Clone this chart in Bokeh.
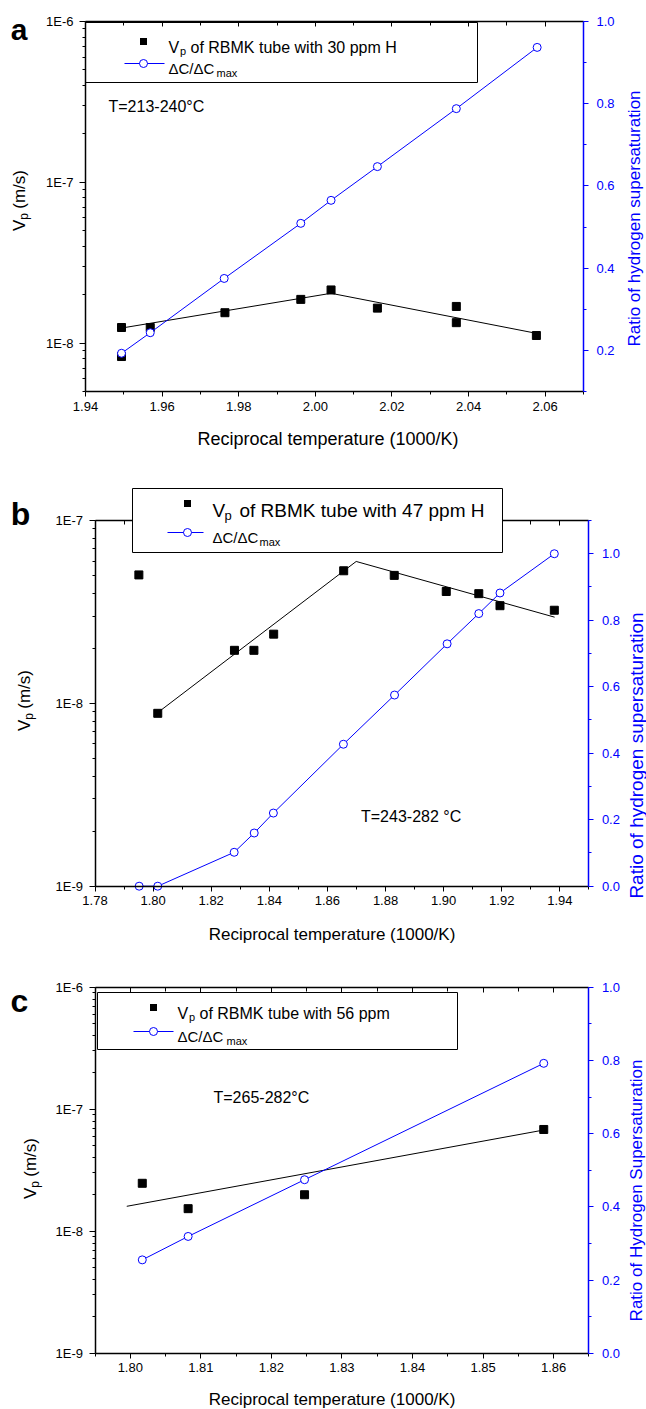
import math
from bokeh.plotting import figure
from bokeh.models import (Range1d, LinearAxis, LinearScale, FixedTicker, CustomJSTickFormatter,
                          NumeralTickFormatter, Label, BoxAnnotation, CustomLabelingPolicy)
from bokeh.layouts import column
from bokeh.embed import file_html
from bokeh.resources import INLINE

FONT = "Liberation Sans"
BLUE = "#0000FF"
W = 646

# ---------------- data ----------------
# Panel a : RBMK tube with 30 ppm H, T=213-240 C
a_vp_x = [1.9494, 1.9494, 1.9569, 1.9764, 1.9962, 2.0041, 2.0162, 2.0368, 2.0368, 2.0577]
a_vp_y = [1.25e-8, 8.25e-9, 1.25e-8, 1.545e-8, 1.87e-8, 2.14e-8, 1.65e-8, 1.69e-8, 1.34e-8, 1.115e-8]
a_fit_x = [1.9494, 2.0041, 2.0577]
a_fit_y = [1.24e-8, 2.04e-8, 1.15e-8]
a_ratio_x = [1.9494, 1.9569, 1.9762, 1.9962, 2.0041, 2.0162, 2.0368, 2.0579]
a_ratio_y = [0.193, 0.243, 0.375, 0.509, 0.565, 0.647, 0.788, 0.937]

# Panel b : RBMK tube with 47 ppm H, T=243-282 C
b_vp_x = [1.7951, 1.8016, 1.8280, 1.8347, 1.8415, 1.8656, 1.8830, 1.9009, 1.9121, 1.9194, 1.9381]
b_vp_y = [5.04e-8, 8.82e-9, 1.95e-8, 1.95e-8, 2.39e-8, 5.31e-8, 5.01e-8, 4.09e-8, 3.98e-8, 3.42e-8, 3.23e-8]
b_fit_x = [1.8016, 1.8699, 1.9382]
b_fit_y = [8.9e-9, 5.97e-8, 2.96e-8]
b_ratio_x = [1.7952, 1.8016, 1.8279, 1.8348, 1.8414, 1.8655, 1.8831, 1.9012, 1.9121, 1.9194, 1.9381]
b_ratio_y = [0.0, 0.0, 0.102, 0.160, 0.220, 0.427, 0.575, 0.729, 0.820, 0.882, 1.0]

# Panel c : RBMK tube with 56 ppm, T=265-282 C
c_vp_x = [1.8017, 1.8082, 1.8247, 1.8586]
c_vp_y = [2.47e-8, 1.53e-8, 1.99e-8, 6.82e-8]
c_fit_x = [1.7995, 1.8586]
c_fit_y = [1.60e-8, 6.75e-8]
c_ratio_x = [1.8017, 1.8082, 1.8247, 1.8586]
c_ratio_y = [0.255, 0.319, 0.474, 0.792]

# axis ranges and ticks
a_xrange, a_yrange, a_rrange = (1.94, 2.07), (5e-9, 1e-6), (0.1, 1.0)
b_xrange, b_yrange, b_rrange = (1.78, 1.95), (1e-9, 1e-7), (0.0, 1.1)
c_xrange, c_yrange, c_rrange = (1.795, 1.865), (1e-9, 1e-6), (0.0, 1.0)

a_xticks = [1.94, 1.96, 1.98, 2.00, 2.02, 2.04, 2.06]
a_xminor = [1.95, 1.97, 1.99, 2.01, 2.03, 2.05, 2.07]
b_xticks = [1.78, 1.80, 1.82, 1.84, 1.86, 1.88, 1.90, 1.92, 1.94]
b_xminor = [1.79, 1.81, 1.83, 1.85, 1.87, 1.89, 1.91, 1.93, 1.95]
c_xticks = [1.80, 1.81, 1.82, 1.83, 1.84, 1.85, 1.86]
c_xminor = [1.795, 1.805, 1.815, 1.825, 1.835, 1.845, 1.855, 1.865]

a_rticks = [0.2, 0.4, 0.6, 0.8, 1.0]
a_rminor = [0.1, 0.3, 0.5, 0.7, 0.9]
b_rticks = [0.0, 0.2, 0.4, 0.6, 0.8, 1.0]
b_rminor = [0.1, 0.3, 0.5, 0.7, 0.9, 1.1]
c_rticks = [0.0, 0.2, 0.4, 0.6, 0.8, 1.0]
c_rminor = [0.1, 0.3, 0.5, 0.7, 0.9]

a_yexp = (-8, -6)
b_yexp = (-9, -7)
c_yexp = (-9, -6)

x_title = "Reciprocal temperature (1000/K)"
a_legend = "of RBMK tube with 30 ppm H"
b_legend = "of RBMK tube with 47 ppm H"
c_legend = "of RBMK tube with 56 ppm"
a_temp = "T=213-240°C"
b_temp = "T=243-282 °C"
c_temp = "T=265-282°C"
a_rlabel = "Ratio of hydrogen supersaturation"
b_rlabel = "Ratio of hydrogen supersaturation"
c_rlabel = "Ratio of Hydrogen Supersaturation"

# ---------------- geometry (page pixels): canvas and plot rectangle ----------------
GA = dict(Y0=0, H=455, L=85, R=583, T=21, B=391)
GB = dict(Y0=455, H=490, L=94.5, R=588.4, T=520, B=885.7)
GC = dict(Y0=945, H=464, L=94.5, R=588.4, T=986.7, B=1352.7)


def sx(G, X):
    return X


def sy(G, Y):
    return G["Y0"] + G["H"] - Y


def put(p, G, X, Y, text, size, color="black", align="left", baseline="middle", angle=0.0, bold=False):
    p.add_layout(Label(x=sx(G, X), y=sy(G, Y), x_units="screen", y_units="screen", text=text,
                       text_font=FONT, text_font_size=f"{size}px", text_color=color,
                       text_align=align, text_baseline=baseline, angle=angle,
                       text_font_style="bold" if bold else "normal"))


def box(p, G, X0, Y0, X1, Y1, fill=None, line="black", lw=1.0, radius=0):
    p.add_layout(BoxAnnotation(left=sx(G, X0), right=sx(G, X1), top=sy(G, Y0), bottom=sy(G, Y1),
                               left_units="screen", right_units="screen",
                               top_units="screen", bottom_units="screen",
                               fill_color=fill if fill else "white", fill_alpha=1.0 if fill else 0.0,
                               line_color=line if line else "white", line_alpha=1.0 if line else 0.0,
                               line_width=lw, border_radius=radius))


def decade_ticks(lo, hi, vmin, vmax):
    majors = [10.0 ** e for e in range(lo, hi + 1)]
    minors = [m * 10.0 ** e for e in range(lo - 1, hi + 1) for m in range(2, 10)]
    minors = [v for v in minors if vmin * 0.999 <= v <= vmax * 1.001]
    return majors, minors


def style(ax, color, size="13px"):
    ax.axis_line_color = color
    ax.axis_line_width = 1.5
    ax.major_tick_line_color = color
    ax.minor_tick_line_color = color
    ax.major_tick_line_width = 1
    ax.minor_tick_line_width = 1
    ax.major_label_text_color = color
    ax.major_label_text_font = FONT
    ax.major_label_text_font_size = size
    ax.major_label_text_font_style = "normal"
    ax.axis_label = None


def make_panel(G, xr, yr, rr, xt, xm, yexp, rt, rm):
    # extend the ranges so that the whole canvas is the frame, and the plot
    # rectangle [xr] x [yr] lands on the measured pixel box
    L, R, T, B, Y0, H = G["L"], G["R"], G["T"], G["B"], G["Y0"], G["H"]
    kx = (R - L) / (xr[1] - xr[0])
    xs = (xr[0] - L / kx, xr[1] + (W - R) / kx)
    ly0, ly1 = math.log10(yr[0]), math.log10(yr[1])
    ky = (B - T) / (ly1 - ly0)
    ys = (10 ** (ly0 - (Y0 + H - B) / ky), 10 ** (ly1 + (T - Y0) / ky))
    kr = (B - T) / (rr[1] - rr[0])
    rs = (rr[0] - (Y0 + H - B) / kr, rr[1] + (T - Y0) / kr)

    p = figure(width=W, height=H, x_range=Range1d(*xs), y_range=Range1d(*ys),
               y_axis_type="log", output_backend="svg", toolbar_location=None, title=None,
               min_border_left=0, min_border_right=0, min_border_top=0, min_border_bottom=0)
    p.extra_y_ranges = {"r": Range1d(*rs)}
    p.extra_y_scales = {"r": LinearScale()}
    p.outline_line_color = None
    p.xgrid.visible = False
    p.ygrid.visible = False
    p.background_fill_color = "white"
    p.border_fill_color = "white"

    bx = p.xaxis[0]
    style(bx, "black")
    bx.fixed_location = yr[0]
    bx.bounds = xr
    bx.ticker = FixedTicker(ticks=xt, minor_ticks=xm)
    bx.formatter = NumeralTickFormatter(format="0.00")
    bx.major_tick_in, bx.major_tick_out = 0, 5
    bx.minor_tick_in, bx.minor_tick_out = 0, 3
    bx.major_label_standoff = 5

    ly = p.yaxis[0]
    style(ly, "black")
    ly.fixed_location = xr[0]
    ly.bounds = yr
    ymaj, ymin = decade_ticks(yexp[0], yexp[1], yr[0], yr[1])
    ly.ticker = FixedTicker(ticks=ymaj, minor_ticks=ymin)
    ly.formatter = CustomJSTickFormatter(code="return '1E' + Math.round(Math.log10(tick)).toString();")
    ly.major_tick_in, ly.major_tick_out = 0, 6
    ly.minor_tick_in, ly.minor_tick_out = 0, 3
    ly.major_label_standoff = 6

    top = LinearAxis(ticker=FixedTicker(ticks=xt, minor_ticks=xm), fixed_location=yr[1], bounds=xr,
                     major_label_policy=CustomLabelingPolicy(code="for (const i of indices) indices.unset(i)"))
    style(top, "black")
    top.major_tick_in, top.major_tick_out = 5, 0
    top.minor_tick_in, top.minor_tick_out = 4, 0
    p.add_layout(top, "above")

    ry = LinearAxis(y_range_name="r", ticker=FixedTicker(ticks=rt, minor_ticks=rm),
                    formatter=NumeralTickFormatter(format="0.0"), fixed_location=xr[1], bounds=rr)
    style(ry, BLUE)
    ry.major_tick_in, ry.major_tick_out = 0, 5
    ry.minor_tick_in, ry.minor_tick_out = 0, 3
    ry.major_label_standoff = 8
    p.add_layout(ry, "right")
    return p


def data(p, vx, vy, fx, fy, rx, ry_):
    p.line(fx, fy, line_color="black", line_width=1)
    p.scatter(vx, vy, marker="square", size=8, fill_color="black", line_color="black")
    p.line(rx, ry_, line_color=BLUE, line_width=1, y_range_name="r")
    p.scatter(rx, ry_, marker="circle", size=8, fill_color="white", line_color=BLUE,
              line_width=1, y_range_name="r")


def vlabel(p, G, Xc, Yc, size):
    sub = round(size * 0.7)
    wV = 0.667 * size
    wp = 0.556 * sub
    wsp = 0.25 * size
    wrest = (0.333 + 0.833 + 0.278 + 0.5 + 0.333) * size
    Y = Yc + (wV + wp + wsp + wrest) / 2
    put(p, G, Xc, Y, "V", size, angle=math.pi / 2)
    put(p, G, Xc + 0.28 * size, Y - wV, "p", sub, angle=math.pi / 2)
    put(p, G, Xc, Y - wV - wp - wsp, "(m/s)", size, angle=math.pi / 2)


def legend(p, G, bx0, by0, bx1, by1, fill, mx, lx0, lx1, y1, y2, tx, vsize, psx, psz, restx, text,
           dsize, maxx, msize):
    box(p, G, bx0, by0, bx1, by1, fill=fill, line="black", lw=1)
    box(p, G, mx - 3.5, y1 - 3.5, mx + 3.5, y1 + 3.5, fill="black", line=None)
    box(p, G, lx0, y2 - 0.5, lx1, y2 + 0.5, fill=BLUE, line=None)
    box(p, G, mx - 4, y2 - 4, mx + 4, y2 + 4, fill="white", line=BLUE, lw=1, radius=4)
    put(p, G, tx, y1 + 0.36 * vsize, "V", vsize, baseline="alphabetic")
    put(p, G, psx, y1 + 0.36 * vsize + 0.25 * vsize, "p", psz, baseline="alphabetic")
    put(p, G, restx, y1 + 0.36 * vsize, text, vsize, baseline="alphabetic")
    put(p, G, tx, y2 + 0.36 * dsize, "ΔC/ΔC", dsize, baseline="alphabetic")
    put(p, G, maxx, y2 + 0.36 * dsize + 0.3 * dsize, "max", msize, baseline="alphabetic")


# ---------------- panel a ----------------
pa = make_panel(GA, a_xrange, a_yrange, a_rrange, a_xticks, a_xminor, a_yexp, a_rticks, a_rminor)
data(pa, a_vp_x, a_vp_y, a_fit_x, a_fit_y, a_ratio_x, a_ratio_y)
legend(pa, GA, 85, 22, 477, 82, None, 143, 124, 164, 41, 63, 168, 16, 179.5, 11, 190, a_legend,
       15, 216, 11)
put(pa, GA, 108, 106, a_temp, 16)
put(pa, GA, 327.5, 438, x_title, 18, align="center")
vlabel(pa, GA, 18.5, 200, 17)
put(pa, GA, 634, 218, a_rlabel, 17, color=BLUE, align="center", angle=math.pi / 2)
put(pa, GA, 18.5, 29, "a", 30, align="center", baseline="alphabetic", bold=True)

# ---------------- panel b ----------------
pb = make_panel(GB, b_xrange, b_yrange, b_rrange, b_xticks, b_xminor, b_yexp, b_rticks, b_rminor)
data(pb, b_vp_x, b_vp_y, b_fit_x, b_fit_y, b_ratio_x, b_ratio_y)
legend(pb, GB, 132, 488, 502, 552, "white", 187, 167, 203, 503, 532, 212, 19, 224, 13, 239, b_legend,
       15, 259, 11)
put(pb, GB, 360.5, 816, b_temp, 16)
put(pb, GB, 331.5, 934, x_title, 17, align="center")
vlabel(pb, GB, 23.5, 700, 17)
put(pb, GB, 636, 755, b_rlabel, 19, color=BLUE, align="center", angle=math.pi / 2)
put(pb, GB, 20, 513, "b", 32, align="center", baseline="alphabetic", bold=True)

# ---------------- panel c ----------------
pc = make_panel(GC, c_xrange, c_yrange, c_rrange, c_xticks, c_xminor, c_yexp, c_rticks, c_rminor)
data(pc, c_vp_x, c_vp_y, c_fit_x, c_fit_y, c_ratio_x, c_ratio_y)
legend(pc, GC, 97, 992, 457, 1049, None, 153, 133, 173, 1007, 1031, 177, 16, 188.5, 11, 199, c_legend,
       15, 226, 11)
put(pc, GC, 213, 1097, c_temp, 16)
put(pc, GC, 331.5, 1399, x_title, 17, align="center")
vlabel(pc, GC, 30, 1168, 17)
put(pc, GC, 636, 1190, c_rlabel, 17, color=BLUE, align="center", angle=math.pi / 2)
put(pc, GC, 19, 1000, "c", 32, align="center", baseline="alphabetic", bold=True)

layout = column(pa, pb, pc, spacing=0)
open("out.html", "w").write(file_html(layout, INLINE))
